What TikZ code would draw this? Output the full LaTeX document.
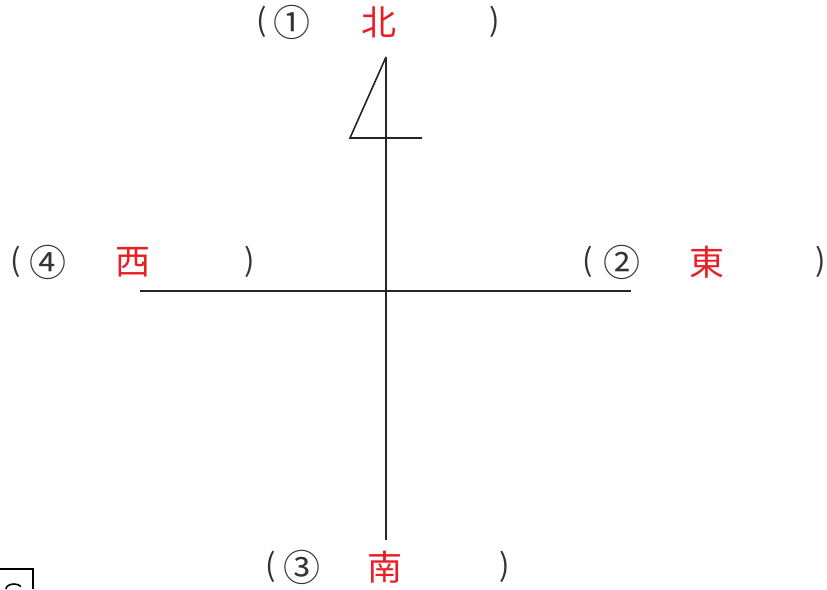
\documentclass[tikz,border=0pt]{standalone}
\usepackage{fontspec}
\newfontfamily\cjk{Noto Sans CJK JP}
\definecolor{dirred}{RGB}{232,32,38}

\begin{document}
\begin{tikzpicture}[x=1pt, y=-1pt, font=\cjk\fontsize{31}{31}\selectfont,
  paren/.style={text=black!80, inner sep=0pt},
  numtag/.style={text=black!80, inner sep=0pt, font=\cjk\fontsize{37}{37}\selectfont},
  dirname/.style={text=dirred, inner sep=0pt, font=\cjk\fontsize{35}{35}\selectfont}]
  \useasboundingbox (0,0) rectangle (827,589);
  % compass cross
  \coordinate (top) at (386,57);
  \coordinate (bottom) at (386,540);
  \coordinate (left) at (140,291);
  \coordinate (right) at (631,291);
  \coordinate (flagl) at (350,138);
  \coordinate (flagr) at (422,138);
  \draw[line width=1.6pt, black!85] (top) -- (bottom);
  \draw[line width=1.6pt, black!85] (left) -- (right);
  % north flag
  \draw[line width=1.6pt, black!85] (top) -- (flagl) -- (flagr);
  % answer labels: name / paren x / number x / direction x / closing x / y
  \foreach \nm/\ax/\bx/\cx/\dx/\yy/\num/\dir in {
      north/262/292/379/495/22/①/北,
      east/588/622/707/821/262/②/東,
      south/271/302/385/505/567/③/南,
      west/16/48/133/250/262/④/西}{
    \node[paren] (\nm open) at (\ax,\yy) {(};
    \node[numtag] (\nm num) at (\bx,\yy) {\num};
    \node[dirname] (\nm dir) at (\cx,\yy) {\dir};
    \node[paren] (\nm close) at (\dx,\yy) {)};
  }
  % cut-off box in the corner
  \draw[line width=1.2pt] (0,569) -- (33,569) -- (33,589);
  \draw[line width=1.6pt] (6,589) arc[start angle=180, end angle=30, x radius=8, y radius=-5];
\end{tikzpicture}
\end{document}
